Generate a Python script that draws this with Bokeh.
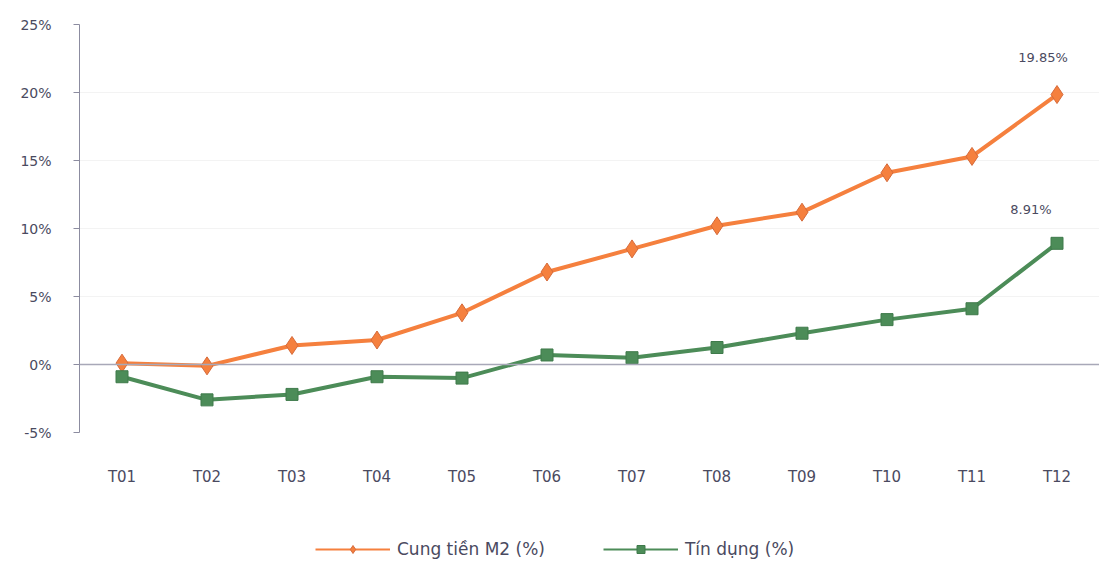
from bokeh.plotting import figure
from bokeh.layouts import column
from bokeh.models import ColumnDataSource, Range1d, Span, Legend, LegendItem, FixedTicker, Label
from bokeh.embed import file_html
from bokeh.resources import INLINE

months = ["T01", "T02", "T03", "T04", "T05", "T06", "T07", "T08", "T09", "T10", "T11", "T12"]
m2 = [0.1, -0.1, 1.4, 1.8, 3.8, 6.8, 8.5, 10.2, 11.2, 14.1, 15.3, 19.85]
credit = [-0.9, -2.6, -2.2, -0.9, -1.0, 0.7, 0.5, 1.25, 2.3, 3.3, 4.1, 8.91]
y_ticks = [-5, 0, 5, 10, 15, 20, 25]
y_tick_labels = ["-5%", "0%", "5%", "10%", "15%", "20%", "25%"]
m2_name = "Cung tiền M2 (%)"
credit_name = "Tín dụng (%)"

src = ColumnDataSource(dict(x=months, m2=m2, credit=credit))

FONT = "DejaVu Sans"
TXT = "#4a4a60"
ORANGE = "#f5803e"
GREEN = "#4c8c58"

p = figure(width=1099, height=500, x_range=months, y_range=Range1d(-5, 25),
           output_backend="svg", toolbar_location=None,
           min_border_left=79, min_border_right=0, min_border_top=24, min_border_bottom=68)
p.outline_line_color = None
p.background_fill_color = "white"
p.border_fill_color = "white"

p.xgrid.grid_line_color = None
p.ygrid.grid_line_color = "#f3f3f3"

p.yaxis.ticker = FixedTicker(ticks=y_ticks)
p.yaxis.major_label_overrides = {t: l for t, l in zip(y_ticks, y_tick_labels)}
p.yaxis.axis_line_color = "#8c8ca0"
p.yaxis.major_tick_line_color = "#8c8ca0"
p.yaxis.major_tick_in = 0
p.yaxis.major_tick_out = 6
p.yaxis.minor_tick_line_color = None
p.yaxis.major_label_text_font = FONT
p.yaxis.major_label_text_font_size = "14px"
p.yaxis.major_label_text_color = TXT
p.yaxis.major_label_standoff = 22

p.xaxis.axis_line_color = None
p.xaxis.major_tick_line_color = None
p.xaxis.minor_tick_line_color = None
p.xaxis.major_tick_in = 0
p.xaxis.major_tick_out = 0
p.xaxis.major_label_text_font = FONT
p.xaxis.major_label_text_font_size = "15px"
p.xaxis.major_label_text_color = TXT
p.xaxis.major_label_standoff = 35

p.add_layout(Span(location=0, dimension="width", line_color="#a8a8b8", line_width=1.5))

p.line("x", "m2", source=src, line_color=ORANGE, line_width=4)
p.scatter("x", "m2", source=src, marker="diamond", size=18, fill_color=ORANGE,
          line_color="#d66a3a", line_width=1)
p.line("x", "credit", source=src, line_color=GREEN, line_width=4)
p.scatter("x", "credit", source=src, marker="square", size=12, fill_color=GREEN,
          line_color="#3f7a4b", line_width=1)

p.add_layout(Label(x=11.5, y=m2[-1], text=f"{m2[-1]:.2f}%", x_offset=-14, y_offset=30,
                   text_align="center", text_font=FONT, text_font_size="13px", text_color=TXT))
p.add_layout(Label(x=11.5, y=credit[-1], text=f"{credit[-1]:.2f}%", x_offset=-26, y_offset=26,
                   text_align="center", text_font=FONT, text_font_size="13px", text_color=TXT))

# legend strip below the chart (its renderers only carry the legend styling)
lg = figure(width=1099, height=62, x_range=Range1d(0, 1), y_range=Range1d(0, 1),
            output_backend="svg", toolbar_location=None,
            x_axis_location=None, y_axis_location=None,
            min_border_left=0, min_border_right=0, min_border_top=0, min_border_bottom=0)
lg.grid.grid_line_color = None
lg.outline_line_color = None
offscreen = ColumnDataSource(dict(x=[-10, -9], y=[-10, -10]))
l1 = lg.line("x", "y", source=offscreen, line_color=ORANGE, line_width=2)
s1 = lg.scatter("x", "y", source=offscreen, marker="diamond", size=10, fill_color=ORANGE,
                line_color="#d66a3a", line_width=1)
l2 = lg.line("x", "y", source=offscreen, line_color=GREEN, line_width=2)
s2 = lg.scatter("x", "y", source=offscreen, marker="square", size=8, fill_color=GREEN,
                line_color="#3f7a4b", line_width=1)

legend = Legend(items=[LegendItem(label=m2_name, renderers=[l1, s1]),
                       LegendItem(label=credit_name, renderers=[l2, s2])],
                orientation="horizontal", location=(236, 3),
                label_text_font=FONT, label_text_font_size="17px", label_text_color=TXT,
                border_line_color=None, background_fill_alpha=0,
                glyph_width=75, spacing=58, margin=0, padding=4, label_standoff=7)
lg.add_layout(legend, "center")

open("out.html", "w").write(file_html(column(p, lg, spacing=0), INLINE))
